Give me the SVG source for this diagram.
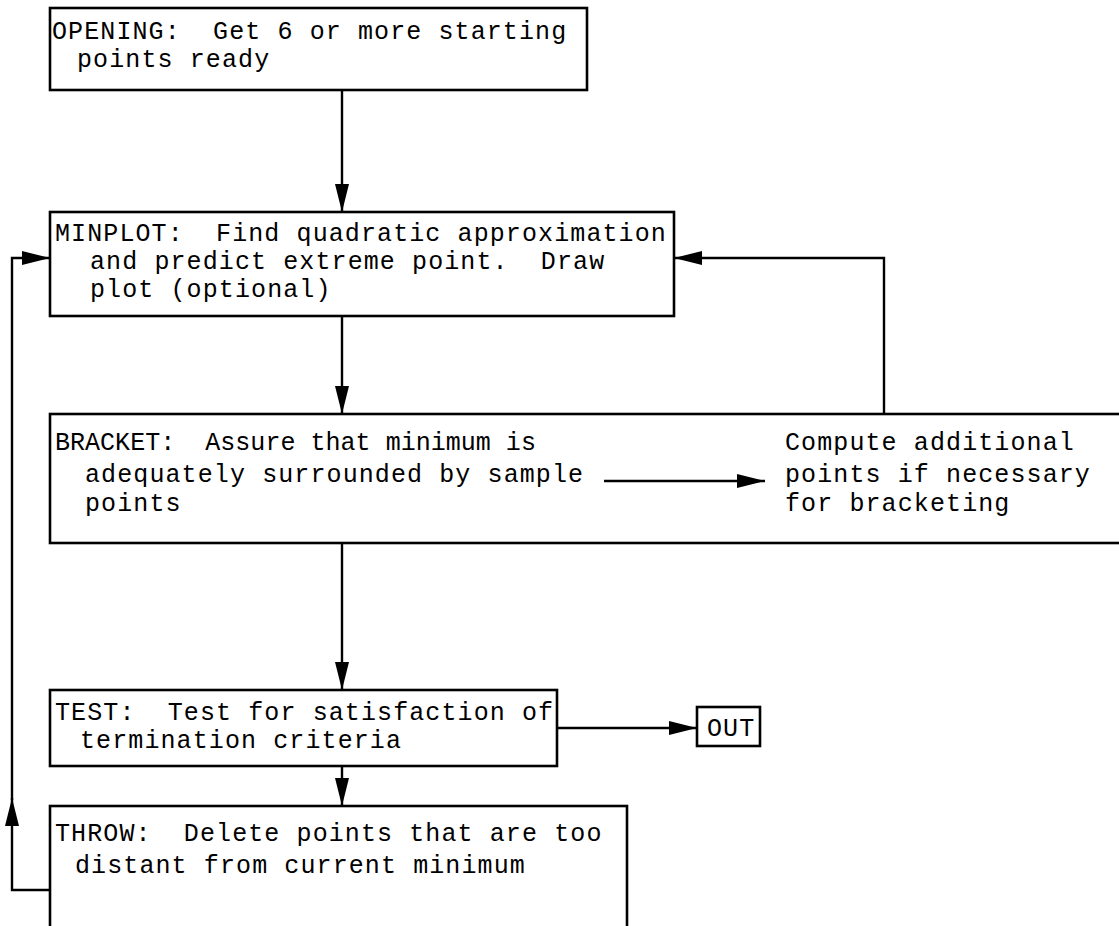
<svg xmlns="http://www.w3.org/2000/svg" width="1119" height="926" viewBox="0 0 1119 926">
<style>
.box{fill:#fff;stroke:#000;stroke-width:2.6}
.t{font-family:"Liberation Mono","DejaVu Sans Mono",monospace;font-size:25px;letter-spacing:1.1px;fill:#000;white-space:pre}
.c{fill:none;stroke:#000;stroke-width:2.4}
</style>
<defs>
<marker id="ah" markerUnits="userSpaceOnUse" markerWidth="28" markerHeight="14" refX="28" refY="7" orient="auto">
<path d="M0,0 L28,7 L0,14 z" fill="#000"/>
</marker>
</defs>
<rect width="1119" height="926" fill="#fff"/>
<g id="opening">
<rect class="box" x="50" y="8" width="537" height="82"/>
<text class="t" x="52" y="39">OPENING:  Get 6 or more starting</text>
<text class="t" x="77" y="67">points ready</text>
</g>
<g id="minplot">
<rect class="box" x="50" y="212" width="624" height="104"/>
<text class="t" x="55" y="241">MINPLOT:  Find quadratic approximation</text>
<text class="t" x="90" y="269">and predict extreme point.  Draw</text>
<text class="t" x="90" y="297">plot (optional)</text>
</g>
<g id="bracket">
<rect class="box" x="50" y="414" width="1100" height="129"/>
<text class="t" x="55" y="450" textLength="482" lengthAdjust="spacing">BRACKET:  Assure that minimum is</text>
<text class="t" x="85" y="482">adequately surrounded by sample</text>
<text class="t" x="85" y="511">points</text>
<text class="t" x="785" y="450">Compute additional</text>
<text class="t" x="785" y="482">points if necessary</text>
<text class="t" x="785" y="511">for bracketing</text>
</g>
<g id="test">
<rect class="box" x="50" y="690" width="507" height="76"/>
<text class="t" x="55" y="720">TEST:  Test for satisfaction of</text>
<text class="t" x="80" y="748">termination criteria</text>
</g>
<g id="out">
<rect class="box" x="697" y="707" width="63" height="39"/>
<text class="t" x="707" y="736">OUT</text>
</g>
<g id="throw">
<rect class="box" x="50" y="806" width="577" height="140"/>
<text class="t" x="55" y="841">THROW:  Delete points that are too</text>
<text class="t" x="75" y="873">distant from current minimum</text>
</g>
<g id="connectors">
<path class="c" d="M342,90 V212" marker-end="url(#ah)"/>
<path class="c" d="M342,316 V414" marker-end="url(#ah)"/>
<path class="c" d="M342,543 V690" marker-end="url(#ah)"/>
<path class="c" d="M342,766 V806" marker-end="url(#ah)"/>
<path class="c" d="M557,728 H697" marker-end="url(#ah)"/>
<path class="c" d="M884,414 V258 H674" marker-end="url(#ah)"/>
<path class="c" d="M50,890 H12 V798" marker-end="url(#ah)"/>
<path class="c" d="M12,800 V258 H50" marker-end="url(#ah)"/>
<path class="c" d="M604,481 H765" marker-end="url(#ah)"/>
</g>
</svg>
